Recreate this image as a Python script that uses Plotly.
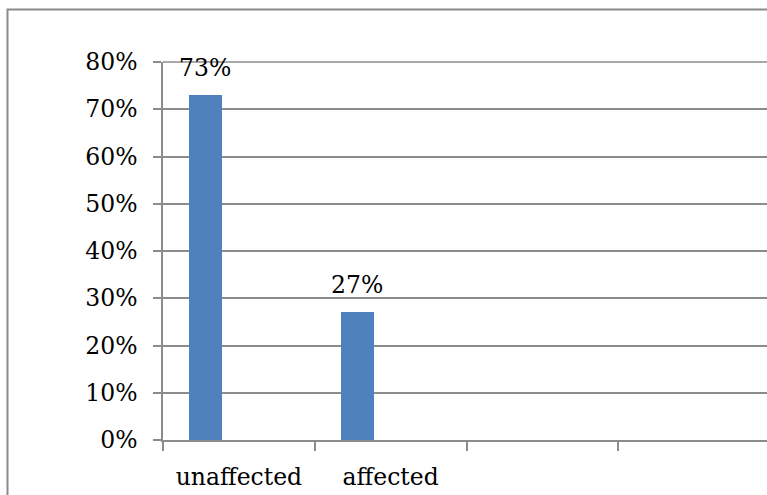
import plotly.graph_objects as go

# Chart data
categories = ["unaffected", "affected", " ", "  "]
shares = [0.73, 0.27, None, None]
y_ticks = [0, 0.1, 0.2, 0.3, 0.4, 0.5, 0.6, 0.7, 0.8]
y_tick_labels = ["0%", "10%", "20%", "30%", "40%", "50%", "60%", "70%", "80%"]

BAR_COLOR = "#4f81bd"
GRID = "#8c8c8c"
FONT = dict(family="DejaVu Serif", size=23.5, color="black")

W, H = 767, 495
ML, MR, MT, MB = 163, 0, 62, 55
BAR_W, BAR_OFF = 0.22, -0.33

fig = go.Figure()
fig.add_trace(go.Bar(
    x=categories, y=shares,
    width=BAR_W, offset=BAR_OFF,
    marker=dict(color=BAR_COLOR, line=dict(width=0)),
    hoverinfo="skip",
))

# value labels above the bars
for i, v in enumerate(shares):
    if v is None:
        continue
    fig.add_annotation(
        x=i + BAR_OFF + BAR_W / 2, y=v, xref="x", yref="y",
        text=f"{round(v * 100)}%", showarrow=False,
        yanchor="bottom", yshift=11, font=FONT,
    )

# top gridline along the upper edge of the plot area (not clipped)
fig.add_shape(
    type="line", xref="paper", yref="paper",
    x0=0, x1=1, y0=1, y1=1,
    line=dict(color=GRID, width=1.5), layer="below",
)

# outer chart frame
pw, ph = W - ML - MR, H - MT - MB
fig.add_shape(
    type="rect", xref="paper", yref="paper",
    x0=(7.5 - ML) / pw, x1=(W + 20 - ML) / pw,
    y0=-(MB + 20) / ph, y1=(H - MB - 9.5) / ph,
    line=dict(color="#8a8a8a", width=2), fillcolor="rgba(0,0,0,0)", layer="above",
)

fig.update_layout(
    width=W, height=H, autosize=False,
    margin=dict(l=ML, r=MR, t=MT, b=MB, pad=0),
    paper_bgcolor="white", plot_bgcolor="white",
    showlegend=False, font=FONT,
    bargap=0,
)
fig.update_xaxes(
    type="category", range=[-0.5, 3.48],
    tickson="boundaries", ticks="outside", ticklen=9, tickwidth=1.5, tickcolor=GRID,
    showline=True, linecolor=GRID, linewidth=1.5,
    showgrid=False, zeroline=False, tickfont=FONT,
    ticklabelstandoff=15,
)
fig.update_yaxes(
    range=[0, 0.8], tickvals=y_ticks, ticktext=y_tick_labels,
    ticks="outside", ticklen=8, tickwidth=1.5, tickcolor=GRID,
    showline=True, linecolor=GRID, linewidth=1.5,
    showgrid=True, gridcolor=GRID, gridwidth=1.5, zeroline=False,
    tickfont=FONT, ticklabelstandoff=11,
)

fig.write_html("out.html")
